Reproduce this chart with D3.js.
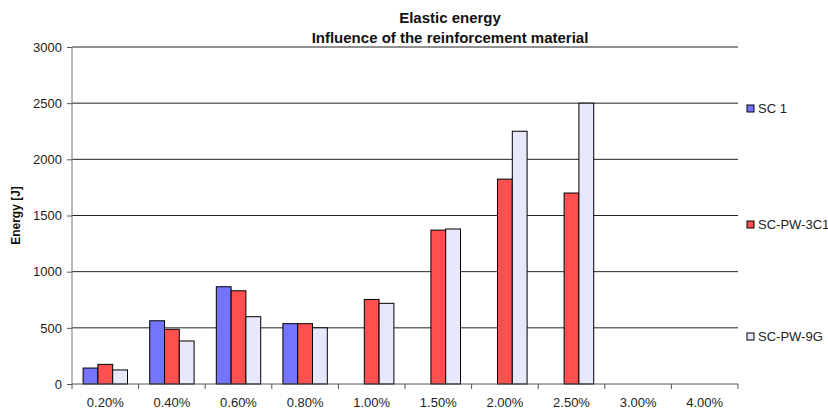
<!DOCTYPE html>
<html>
<head>
<meta charset="utf-8">
<script src="https://cdn.jsdelivr.net/npm/d3@7"></script>
<style>
  body { margin: 0; background: #fff; }
  text { font-family: "Liberation Sans", Arial, sans-serif; }
</style>
</head>
<body>
<script>
const categories = ["0.20%", "0.40%", "0.60%", "0.80%", "1.00%", "1.50%", "2.00%", "2.50%", "3.00%", "4.00%"];
const seriesNames = ["SC 1", "SC-PW-3C1", "SC-PW-9G"];
const sc1 = [142, 563, 866, 537, null, null, null, null, null, null];
const scPw3c = [175, 487, 830, 537, 753, 1370, 1824, 1700, null, null];
const scPw9g = [125, 383, 599, 500, 718, 1380, 2250, 2500, null, null];
const yTicks = [0, 500, 1000, 1500, 2000, 2500, 3000];
const colors = ["#7474ff", "#ff5050", "#e8e8fc"];

const W = 828, H = 410;
const margin = {top: 47, right: 90, bottom: 26, left: 72},
      width = W - margin.left - margin.right,
      height = H - margin.top - margin.bottom;

const svg = d3.select("body").append("svg")
  .attr("width", W)
  .attr("height", H);

const g = svg.append("g")
  .attr("transform", "translate(" + margin.left + "," + margin.top + ")");

const x = d3.scaleBand().domain(categories).range([0, width]);
const bw = x.bandwidth() / 4.5;
const x1 = d3.scaleBand().domain(d3.range(3)).range([bw * 0.75, bw * 3.75]);
const y = d3.scaleLinear().domain([0, 3000]).range([height, 0]);

// gridlines
g.selectAll(".grid")
  .data(yTicks.slice(1))
  .enter().append("line")
  .attr("x1", 0).attr("x2", width)
  .attr("y1", d => y(d)).attr("y2", d => y(d))
  .attr("stroke", "#222").attr("stroke-width", 1);

// bars
const series = [sc1, scPw3c, scPw9g];
series.forEach(function(vals, si) {
  g.selectAll(".bar" + si)
    .data(categories.map((c, i) => ({c: c, v: vals[i]})).filter(d => d.v != null))
    .enter().append("rect")
    .attr("x", d => x(d.c) + x1(si))
    .attr("width", x1.bandwidth())
    .attr("y", d => y(d.v))
    .attr("height", d => height - y(d.v))
    .attr("fill", colors[si])
    .attr("stroke", "#000")
    .attr("stroke-width", 1);
});

// y axis
const yAxis = d3.axisLeft(y).tickValues(yTicks).tickSize(5).tickPadding(5).tickFormat(d3.format("d"));
const ya = g.append("g").call(yAxis);
ya.select(".domain").attr("stroke", "#777").attr("d", "M0," + height + "V0");
ya.selectAll(".tick line").attr("stroke", "#555");
ya.selectAll("text").attr("font-size", 13).attr("fill", "#222");

// x axis
const xa = g.append("g").attr("transform", "translate(0," + height + ")");
xa.append("line").attr("x1", 0).attr("x2", width).attr("stroke", "#555");
xa.selectAll(".xt")
  .data(categories.concat(["end"]))
  .enter().append("line")
  .attr("x1", (d, i) => i * x.step()).attr("x2", (d, i) => i * x.step())
  .attr("y1", 0).attr("y2", 5)
  .attr("stroke", "#555");
xa.selectAll(".xl")
  .data(categories)
  .enter().append("text")
  .attr("x", d => x(d) + x.bandwidth() / 2)
  .attr("y", 23)
  .attr("text-anchor", "middle")
  .attr("font-size", 13)
  .attr("fill", "#222")
  .text(d => d);

// titles
svg.append("text").attr("x", 450).attr("y", 23).attr("text-anchor", "middle")
  .attr("font-size", 15).attr("font-weight", "bold").attr("fill", "#111").text("Elastic energy");
svg.append("text").attr("x", 450).attr("y", 43).attr("text-anchor", "middle")
  .attr("font-size", 15).attr("font-weight", "bold").attr("fill", "#111").text("Influence of the reinforcement material");
svg.append("text")
  .attr("transform", "translate(20," + (margin.top + height / 2) + ") rotate(-90)")
  .attr("text-anchor", "middle")
  .attr("font-size", 12).attr("font-weight", "bold").attr("fill", "#111").text("Energy [J]");

// legend
const legY = [108, 224, 336];
const leg = svg.selectAll(".leg").data(seriesNames).enter().append("g")
  .attr("transform", (d, i) => "translate(747," + legY[i] + ")");
leg.append("rect").attr("x", 0).attr("y", -3).attr("width", 7).attr("height", 7)
  .attr("fill", (d, i) => colors[i]).attr("stroke", "#000");
leg.append("text").attr("x", 11).attr("y", 5).attr("font-size", 13).attr("fill", "#222").text(d => d);
</script>
</body>
</html>
